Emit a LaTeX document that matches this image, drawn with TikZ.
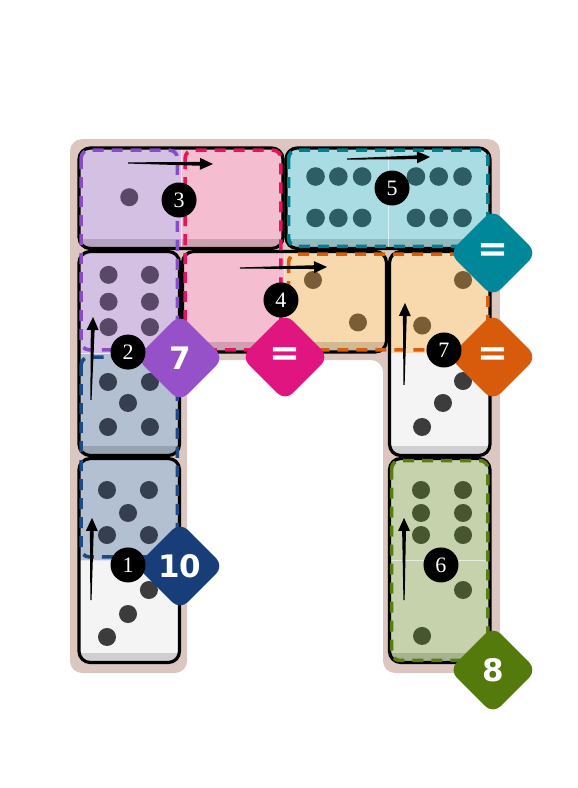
\documentclass[tikz,border=0pt]{standalone}
\usepackage{fontspec}
\newfontfamily\stepfont{Liberation Serif}
\newfontfamily\lblfont{DejaVu Sans}
\usetikzlibrary{calc}
\usetikzlibrary{shapes.geometric}

\definecolor{board}{HTML}{DCC6C0}
\definecolor{cellP}{HTML}{D4C0E2}
\definecolor{cellK}{HTML}{F4BDD0}
\definecolor{cellT}{HTML}{A9DCE3}
\definecolor{cellO}{HTML}{F7D9AD}
\definecolor{cellN}{HTML}{B3C0D2}
\definecolor{cellW}{HTML}{F4F4F4}
\definecolor{cellG}{HTML}{C5D2AB}
\definecolor{pipP}{HTML}{5A4868}
\definecolor{pipT}{HTML}{2E5D66}
\definecolor{pipO}{HTML}{7A5C36}
\definecolor{pipN}{HTML}{363F4F}
\definecolor{pipW}{HTML}{3C3C3C}
\definecolor{pipG}{HTML}{485630}
\definecolor{tagP}{HTML}{9651C9}
\definecolor{tagK}{HTML}{E0157F}
\definecolor{tagT}{HTML}{00879A}
\definecolor{tagO}{HTML}{D85B0C}
\definecolor{tagN}{HTML}{173E79}
\definecolor{tagG}{HTML}{537A0B}
\definecolor{dashP}{HTML}{8A4CC6}
\definecolor{dashK}{HTML}{E4155C}
\definecolor{dashT}{HTML}{007F8C}
\definecolor{dashO}{HTML}{D95E0A}
\definecolor{dashN}{HTML}{1B4A85}
\definecolor{dashG}{HTML}{587C10}

\tikzset{
  dom/.style={draw=black, line width=3.2pt, rounded corners=11pt},
  bottomband/.style={fill=black, fill opacity=0.15},
  celldiv/.style={draw=white, draw opacity=0.6, line width=1pt},
  region/.style={line width=3.6pt, dash pattern=on 11pt off 8pt, rounded corners=8pt},
  stepnum/.style={circle, fill=black, text=white, inner sep=0pt, minimum size=35pt,
    font=\stepfont\fontsize{22}{22}\selectfont},
  target/.style={diamond, aspect=1, inner sep=0pt, minimum size=88pt, rounded corners=11pt,
    text=white, font=\lblfont\bfseries\fontsize{31}{31}\selectfont},
  eqsign/.style={font=\lblfont\bfseries\fontsize{37}{37}\selectfont},
}

\newcommand\steparrow[2]{%
  \coordinate (neckpt) at ($(#2)!13pt!(#1)$);
  \fill ($(#1)!0.6pt!90:(#2)$) -- ($(neckpt)!1.9pt!90:(#2)$) -- ($(neckpt)!6pt!90:(#2)$)
    -- (#2) -- ($(neckpt)!6pt!-90:(#2)$) -- ($(neckpt)!1.9pt!-90:(#2)$)
    -- ($(#1)!0.6pt!-90:(#2)$) -- cycle;}

\begin{document}
\begin{tikzpicture}[x=103.5pt, y=-103.5pt]
  \useasboundingbox (-0.7488,-1.4155) rectangle (4.8357,6.1981);

  % board
  \fill[board, rounded corners=12pt] (-0.072,-0.072) -- (4.082,-0.072) -- (4.082,5.087)
    -- (2.952,5.087) -- (2.952,2.063) -- (1.058,2.063) -- (1.058,5.087) -- (-0.072,5.087) -- cycle;

  % domino 1|0 (top left)
  \begin{scope}
    \clip[rounded corners=11pt] (0.015,0.015) rectangle (1.985,0.985);
    \fill[cellP] (0,0) rectangle (1,1);
    \fill[cellK] (1,0) rectangle (2,1);
    \fill[bottomband] (0,0.89) rectangle (2,1);
    \draw[celldiv] (1,0) -- (1,1);
  \end{scope}
  \draw[dom] (0.015,0.015) rectangle (1.985,0.985);

  % domino 6|6 (top right)
  \begin{scope}
    \clip[rounded corners=11pt] (2.015,0.015) rectangle (3.985,0.985);
    \fill[cellT] (2,0) rectangle (4,1);
    \fill[bottomband] (2,0.89) rectangle (4,1);
    \draw[celldiv] (3,0) -- (3,1);
  \end{scope}
  \draw[dom] (2.015,0.015) rectangle (3.985,0.985);

  % domino 6|5 (left, upper)
  \begin{scope}
    \clip[rounded corners=11pt] (0.015,1.015) rectangle (0.985,2.985);
    \fill[cellP] (0,1) rectangle (1,2);
    \fill[cellN] (0,2) rectangle (1,3);
    \fill[bottomband] (0,2.89) rectangle (1,3);
    \draw[celldiv] (0,2) -- (1,2);
  \end{scope}
  \draw[dom] (0.015,1.015) rectangle (0.985,2.985);

  % domino 5|3 (left, lower)
  \begin{scope}
    \clip[rounded corners=11pt] (0.015,3.015) rectangle (0.985,4.985);
    \fill[cellN] (0,3) rectangle (1,4);
    \fill[cellW] (0,4) rectangle (1,5);
    \fill[bottomband] (0,4.89) rectangle (1,5);
    \draw[celldiv] (0,4) -- (1,4);
  \end{scope}
  \draw[dom] (0.015,3.015) rectangle (0.985,4.985);

  % domino 0|2 (middle)
  \begin{scope}
    \clip[rounded corners=11pt] (1.015,1.015) rectangle (2.985,1.985);
    \fill[cellK] (1,1) rectangle (2,2);
    \fill[cellO] (2,1) rectangle (3,2);
    \fill[bottomband] (1,1.89) rectangle (3,2);
    \draw[celldiv] (2,1) -- (2,2);
  \end{scope}
  \draw[dom] (1.015,1.015) rectangle (2.985,1.985);

  % domino 2|3 (right, upper)
  \begin{scope}
    \clip[rounded corners=11pt] (3.015,1.015) rectangle (3.985,2.985);
    \fill[cellO] (3,1) rectangle (4,2);
    \fill[cellW] (3,2) rectangle (4,3);
    \fill[bottomband] (3,2.89) rectangle (4,3);
    \draw[celldiv] (3,2) -- (4,2);
  \end{scope}
  \draw[dom] (3.015,1.015) rectangle (3.985,2.985);

  % domino 6|2 (right, lower)
  \begin{scope}
    \clip[rounded corners=11pt] (3.015,3.015) rectangle (3.985,4.985);
    \fill[cellG] (3,3) rectangle (4,5);
    \fill[bottomband] (3,4.89) rectangle (4,5);
    \draw[celldiv] (3,4) -- (4,4);
  \end{scope}
  \draw[dom] (3.015,3.015) rectangle (3.985,4.985);

  % pips
  \fill[pipP] (0.5,0.49) circle (9pt);
  \foreach \x in {0.3,0.7} \foreach \y in {1.24,1.5,1.745} \fill[pipP] (\x,\y) circle (9pt);
  \foreach \x in {2.3,2.52,2.75,3.27,3.49,3.72} \foreach \y in {0.29,0.69} \fill[pipT] (\x,\y) circle (9.3pt);
  \fill[pipO] (2.275,1.29) circle (9pt);
  \fill[pipO] (2.71,1.70) circle (9pt);
  \fill[pipO] (3.725,1.29) circle (9pt);
  \fill[pipO] (3.33,1.73) circle (9pt);
  \foreach \p in {(0.295,2.275),(0.7,2.275),(0.488,2.478),(0.295,2.71),(0.7,2.71),
    (0.285,3.319),(0.69,3.319),(0.488,3.541),(0.285,3.754),(0.69,3.754)}
    \fill[pipN] \p circle (9pt);
  \foreach \p in {(0.69,4.285),(0.488,4.517),(0.285,4.739),(3.725,2.266),(3.531,2.478),(3.329,2.71)}
    \fill[pipW] \p circle (9pt);
  \foreach \x in {3.319,3.725} \foreach \y in {3.319,3.541,3.754} \fill[pipG] (\x,\y) circle (9pt);
  \fill[pipG] (3.725,4.285) circle (9pt);
  \fill[pipG] (3.329,4.729) circle (9pt);

  % regions
  \draw[region, dashP] (0.035,0.035) rectangle (0.965,1.965);
  \draw[region, dashK] (1.04,0.035) rectangle (1.965,1.965);
  \draw[region, dashT] (2.04,0.035) rectangle (3.965,0.965);
  \draw[region, dashO] (2.04,1.04) rectangle (3.965,1.965);
  \draw[region, dashN] (0.035,2.035) rectangle (0.965,3.965);
  \draw[region, dashG] (3.035,3.035) rectangle (3.965,4.965);

  % moves
  \coordinate (a1t) at (0.130,4.382);
  \coordinate (a1h) at (0.140,3.589);
  \coordinate (a2t) at (0.130,2.449);
  \coordinate (a2h) at (0.150,1.647);
  \coordinate (a3t) at (0.488,0.159);
  \coordinate (a3h) at (1.309,0.169);
  \coordinate (a4t) at (1.570,1.174);
  \coordinate (a4h) at (2.411,1.164);
  \coordinate (a5t) at (2.604,0.121);
  \coordinate (a5h) at (3.406,0.101);
  \coordinate (a6t) at (3.155,4.382);
  \coordinate (a6h) at (3.155,3.589);
  \coordinate (a7t) at (3.155,2.304);
  \coordinate (a7h) at (3.164,1.512);
  \steparrow{a1t}{a1h}
  \steparrow{a2t}{a2h}
  \steparrow{a3t}{a3h}
  \steparrow{a4t}{a4h}
  \steparrow{a5t}{a5h}
  \steparrow{a6t}{a6h}
  \steparrow{a7t}{a7h}

  % region targets
  \node[target, fill=tagP] (tP) at (0.99,2.043) {7};
  \node[target, fill=tagK, eqsign] (tK) at (2.005,2.034) {=};
  \node[target, fill=tagT, eqsign] (tT) at (4.014,1.029) {=};
  \node[target, fill=tagO, eqsign] (tO) at (4.014,2.034) {=};
  \node[target, fill=tagN] (tN) at (0.99,4.053) {10};
  \node[target, fill=tagG] (tG) at (4.014,5.058) {8};

  % step numbers
  \node[stepnum] (s1) at (0.488,4.043) {1};
  \node[stepnum] (s2) at (0.488,1.986) {2};
  \node[stepnum] (s3) at (0.981,0.517) {3};
  \node[stepnum] (s4) at (1.966,1.483) {4};
  \node[stepnum] (s5) at (3.039,0.401) {5};
  \node[stepnum] (s6) at (3.512,4.043) {6};
  \node[stepnum] (s7) at (3.541,1.966) {7};
\end{tikzpicture}
\end{document}
